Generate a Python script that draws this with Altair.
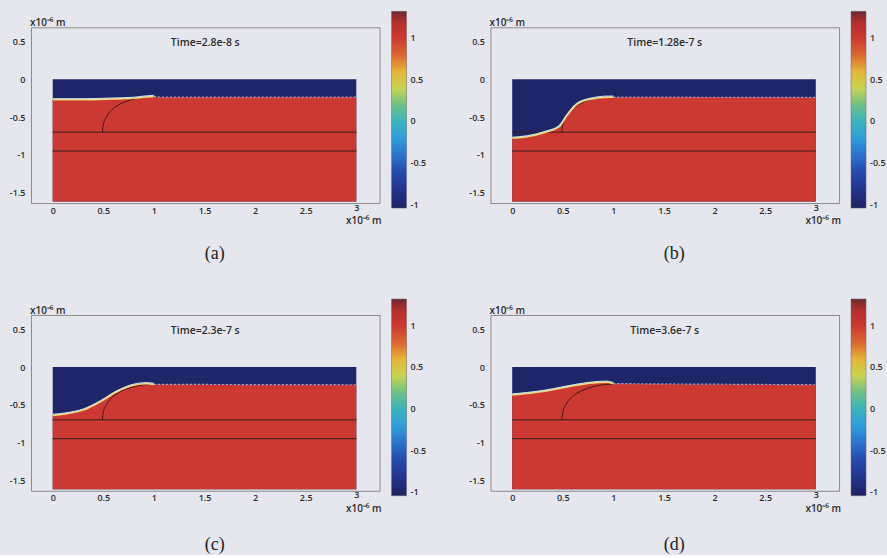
import altair as alt
import pandas as pd

# ---------------- data ----------------
captions = ["(a)", "(b)", "(c)", "(d)"]
times = ["Time=2.8e-8 s", "Time=1.28e-7 s", "Time=2.3e-7 s", "Time=3.6e-7 s"]

x_ticks = [0, 0.5, 1, 1.5, 2, 2.5, 3]
y_ticks = [-1.5, -1, -0.5, 0, 0.5]
cbar_ticks = [-1, -0.5, 0, 0.5, 1]

# simulation domain (x10^-6 m)
dom_x = [0, 3]
dom_y_top = 0.0
dom_y_bot = -1.62
phi_vapor = -1
phi_solid = 1

# interface profiles (solid/vapour boundary) for each time step
iface_x_a = [0, 0.3, 0.6, 0.8, 0.9, 1.0, 1.05, 3.0]
iface_y_a = [-0.27, -0.27, -0.26, -0.25, -0.235, -0.225, -0.235, -0.235]
iface_x_b = [0, 0.15, 0.33, 0.46, 0.54, 0.62, 0.75, 0.95, 1.0, 3.0]
iface_y_b = [-0.78, -0.76, -0.70, -0.63, -0.48, -0.35, -0.27, -0.235, -0.235, -0.24]
iface_x_c = [0, 0.13, 0.3, 0.47, 0.63, 0.8, 0.93, 1.0, 3.0]
iface_y_c = [-0.64, -0.62, -0.57, -0.46, -0.33, -0.24, -0.22, -0.23, -0.235]
iface_x_d = [0, 0.15, 0.32, 0.48, 0.64, 0.8, 0.93, 1.0, 3.0]
iface_y_d = [-0.37, -0.35, -0.32, -0.28, -0.24, -0.21, -0.20, -0.22, -0.235]

iface_x = [iface_x_a, iface_x_b, iface_x_c, iface_x_d]
iface_y = [iface_y_a, iface_y_b, iface_y_c, iface_y_d]

# black boundary lines (layers and initial bump outline)
layer_y = [-0.70, -0.95]
arc_x = [0.49, 0.50, 0.53, 0.58, 0.65, 0.75, 0.87, 1.0]
arc_y = [-0.70, -0.60, -0.50, -0.41, -0.34, -0.28, -0.24, -0.225]

# colormap (jet-like)
cmap_stops = [-1.04, -0.8, -0.55, -0.3, -0.1, 0.12, 0.32, 0.5, 0.65, 0.78, 0.95, 1.1, 1.2, 1.32]
cmap_colors = ["#1d2262", "#22368e", "#2552b8", "#3a8ad8", "#3fb0d8", "#5cb49a", "#b0cc5a",
               "#e7dc45", "#e3a035", "#dc6a30", "#cc3832", "#cb3832", "#b02e2e", "#6b2830"]

# ---------------- layout ----------------
W, H = 349, 176
FONT = "Open Sans"
TXT = "#2a2a2a"
BG = "#e6e7ee"


def panel(i, cap_y):
    xs = alt.Scale(domain=[-0.215, 3.23], nice=False, zero=False)
    ys = alt.Scale(domain=[-1.64, 0.69], nice=False, zero=False)
    cs = alt.Scale(domain=cmap_stops, range=cmap_colors)
    xax = alt.Axis(values=x_ticks, labelExpr="datum.value + ''", ticks=False, domain=False,
                   grid=False,
                   labelPadding={"condition": {"test": "datum.value == 3", "value": 0}, "value": 3},
                   labelFontSize=9, labelFont=FONT,
                   labelFontWeight=600, labelColor=TXT)
    yax = alt.Axis(values=y_ticks, labelExpr="datum.value + ''", ticks=False, domain=False,
                   grid=False, labelPadding=6, labelFontSize=9, labelFont=FONT,
                   labelFontWeight=600, labelColor=TXT)
    leg = alt.Legend(title=None, orient="none", legendX=361, legendY=-16, direction="vertical",
                     gradientLength=197, gradientThickness=15, values=cbar_ticks,
                     labelExpr="datum.value + ''", labelFontSize=9, labelFont=FONT,
                     labelFontWeight=600, labelColor=TXT, labelOffset=4,
                     gradientStrokeColor="#666", gradientStrokeWidth=0.5)

    blue = alt.Chart(pd.DataFrame({"x": [dom_x[0]], "x2": [dom_x[1]], "y": [dom_y_top],
                                   "y2": [dom_y_bot], "phi": [phi_vapor]})).mark_rect().encode(
        x=alt.X("x:Q", scale=xs, axis=xax, title=None),
        x2="x2:Q",
        y=alt.Y("y:Q", scale=ys, axis=yax, title=None),
        y2="y2:Q",
        color=alt.Color("phi:Q", scale=cs, legend=leg),
    )

    df_if = pd.DataFrame({"x": iface_x[i], "y": iface_y[i]})
    df_if["y2"] = dom_y_bot
    df_if["phi"] = phi_solid
    red = alt.Chart(df_if).mark_area(interpolate="monotone").encode(
        x="x:Q", y="y:Q", y2="y2:Q", color=alt.Color("phi:Q", scale=cs, legend=leg))

    hl = alt.Chart(pd.DataFrame({"x": [dom_x[0]] * 2, "x2": [dom_x[1]] * 2, "y": layer_y})).mark_rule(
        color="#3a1c1c", strokeWidth=1).encode(x="x:Q", x2="x2:Q", y="y:Q")

    arc = alt.Chart(pd.DataFrame({"x": arc_x, "y": arc_y, "o": list(range(len(arc_x)))})).mark_line(
        color="#3a1c1c", strokeWidth=1, interpolate="monotone").encode(x="x:Q", y="y:Q", order="o:Q")

    curve_y = alt.Chart(df_if).transform_filter("datum.x <= 1.0").mark_line(
        color="#eed67a", strokeWidth=1.8, interpolate="monotone").encode(x="x:Q", y="y:Q")
    curve_c = alt.Chart(df_if).transform_filter("datum.x <= 1.0").mark_line(
        color="#cfeaf0", strokeWidth=1, yOffset=-1, interpolate="monotone").encode(x="x:Q", y="y:Q")
    flat = alt.Chart(df_if).transform_filter("datum.x >= 1.0").mark_line(
        color="#9aa8dc", strokeWidth=1.2, strokeDash=[2, 2]).encode(x="x:Q", y="y:Q")

    def txt(s, x, y, **kw):
        return alt.Chart(pd.DataFrame({"t": [s]})).mark_text(color=TXT, font=FONT, **kw).encode(
            text="t:N", x=alt.value(x), y=alt.value(y))

    title = txt(times[i], W / 2, 16, fontSize=10.5, fontWeight=600, align="center", baseline="middle")
    unit_y = txt("x10\u207b\u2076 m", -1, -1, fontSize=10, fontWeight=600, align="left", baseline="alphabetic")
    unit_x = txt("x10\u207b\u2076 m", W + 2, H + 21, fontSize=10, fontWeight=600, align="right", baseline="alphabetic")
    cap = alt.Chart(pd.DataFrame({"t": [captions[i]]})).mark_text(
        color="#222", font="Liberation Serif", fontSize=18, align="center", baseline="middle").encode(
        text="t:N", x=alt.value(184), y=alt.value(cap_y))

    return alt.layer(blue, red, hl, arc, curve_y, curve_c, flat, title, unit_y, unit_x, cap).properties(
        width=W, height=H)


row1 = alt.hconcat(panel(0, 227), panel(1, 227), spacing=40).resolve_scale(color="independent").resolve_legend(color="independent")
row2 = alt.hconcat(panel(2, 230), panel(3, 230), spacing=40).resolve_scale(color="independent").resolve_legend(color="independent")

chart = alt.vconcat(row1, row2, spacing=34).resolve_scale(color="independent").resolve_legend(
    color="independent").properties(
    background=BG, padding={"left": 8, "top": 10, "right": 0, "bottom": 0}
).configure_view(stroke="#8a8a8a", strokeWidth=1)

chart.save("out.html", embed_options={"renderer": "svg", "actions": False})
